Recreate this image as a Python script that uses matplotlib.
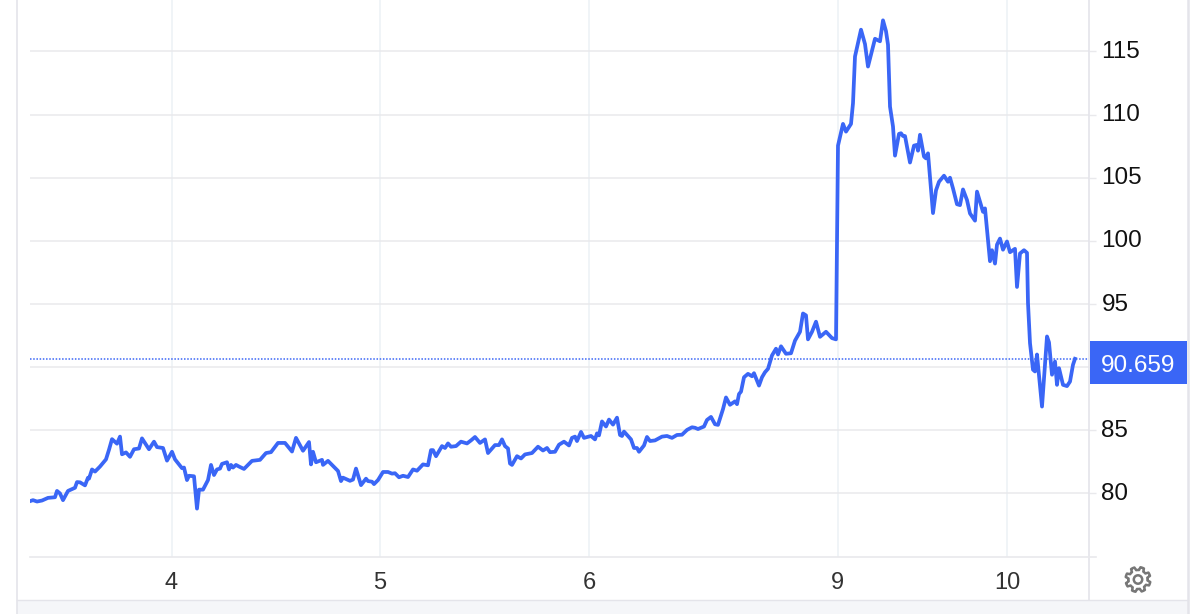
import numpy as np
import matplotlib
matplotlib.use("Agg")
import matplotlib.pyplot as plt
from matplotlib.patches import Polygon, Circle, Rectangle
from matplotlib.lines import Line2D
from matplotlib.transforms import ScaledTranslation

plt.rcParams["font.family"] = ["Liberation Sans", "DejaVu Sans"]

# x is in chart time steps, 209 steps make roughly one session
time_part1 = [30, 33, 37, 42, 48, 55, 57, 60, 63, 68, 75, 77, 80, 85, 88, 89, 92, 95, 100, 106,
              109, 112, 117, 120, 122, 126, 130, 134, 139, 142, 149, 154, 157, 163, 167, 172, 175, 182, 184, 187,
              189, 194, 197, 199, 203, 208, 211, 214, 217, 220, 222, 227, 229, 231, 233, 236, 239, 244, 252, 260,
              266, 271, 278, 285, 292, 296, 303, 309, 311, 313, 316, 322, 323, 328, 332, 338, 341, 343, 350, 353,
              356, 361, 366, 368, 372, 374, 378, 383, 388, 392, 395, 399]
value_part1 = [79.39, 79.47, 79.36, 79.44, 79.65, 79.7, 80.2, 80.0, 79.47, 80.2, 80.45, 80.9, 80.88, 80.64, 81.25, 81.17, 81.9, 81.73, 82.13, 82.7,
               83.46, 84.3, 83.94, 84.5, 83.1, 83.25, 82.9, 83.5, 83.56, 84.36, 83.5, 84.1, 83.67, 83.6, 82.6, 83.3, 82.7, 82.0, 82.05, 81.06,
               81.4, 81.36, 78.8, 80.3, 80.3, 81.06, 82.26, 81.46, 81.9, 81.97, 82.34, 82.47, 81.9, 82.26, 82.05, 82.26, 82.13, 81.94, 82.58, 82.66,
               83.2, 83.27, 84.0, 84.0, 83.32, 84.4, 83.38, 84.07, 82.3, 83.3, 82.47, 82.66, 82.26, 82.58, 82.26, 81.78, 80.98, 81.25, 81.0, 81.1,
               81.97, 80.66, 81.17, 80.98, 80.93, 80.74, 81.06, 81.7, 81.7, 81.57, 81.6, 81.28]

time_part2 = [403, 408, 413, 417, 423, 428, 431, 433, 436, 442, 445, 448, 451, 456, 461, 467, 471, 475, 480, 485,
              488, 495, 499, 502, 505, 508, 510, 512, 517, 521, 525, 532, 538, 543, 547, 550, 555, 559, 564, 569,
              572, 575, 577, 581, 584, 591, 595, 597, 599, 602, 606, 609, 613, 617, 620, 622, 624, 631, 634, 637,
              639, 644, 647, 650, 655, 662, 667, 672, 677, 682, 687, 692, 695, 698, 704, 707, 711, 715, 718, 723,
              726, 730, 735, 737, 739, 741, 744, 748, 752, 754, 759, 762, 765, 768, 772, 776, 778, 781, 786, 791,
              795, 800, 803, 806, 808, 812, 816, 820, 826, 832, 836]
value_part2 = [81.4, 81.3, 81.9, 81.8, 82.3, 82.23, 83.43, 83.43, 82.95, 83.75, 83.6, 83.96, 83.7, 83.75, 84.1, 83.96, 84.2, 84.47, 84.0, 84.28,
               83.2, 83.83, 83.83, 84.28, 83.75, 83.56, 82.37, 82.26, 82.95, 82.77, 83.09, 83.2, 83.7, 83.4, 83.6, 83.27, 83.3, 83.86, 84.1, 83.8,
               84.4, 84.5, 84.15, 84.87, 84.4, 84.55, 84.28, 84.76, 84.6, 85.7, 85.3, 85.85, 85.45, 86.0, 84.63, 84.55, 84.9, 84.28, 83.6, 83.6,
               83.3, 83.8, 84.47, 84.15, 84.2, 84.5, 84.55, 84.4, 84.63, 84.65, 85.03, 85.24, 85.2, 85.1, 85.3, 85.82, 86.06, 85.48, 85.43, 86.68,
               87.6, 87.02, 87.29, 87.07, 87.87, 88.06, 89.2, 89.47, 89.28, 89.52, 88.54, 89.2, 89.6, 89.87, 90.93, 91.46, 91.0, 91.65, 91.06, 91.1,
               92.1, 92.8, 94.25, 94.1, 92.2, 92.8, 93.6, 92.4, 92.8, 92.3, 92.2]

time_part3 = [838, 843, 846, 851, 853, 855, 861, 865, 868, 871, 875, 880, 883, 886, 888, 890, 893, 895, 899, 901,
              903, 905, 910, 914, 917, 918, 920, 924, 926, 928, 933, 936, 939, 944, 948, 950, 953, 957, 960, 963,
              967, 970, 975, 977, 983, 985, 987, 990, 992, 995, 997, 1000, 1003, 1007, 1010, 1015, 1017, 1020, 1024, 1027,
              1028, 1030, 1033, 1035, 1037, 1042, 1047, 1049, 1052, 1055, 1057, 1059, 1063, 1067, 1070, 1073, 1075]
value_part3 = [107.54, 109.26, 108.65, 109.26, 110.9, 114.6, 116.72, 115.58, 113.8, 114.74, 116.0, 115.8, 117.46, 116.6, 115.53, 110.63, 109.05, 106.75, 108.47, 108.52,
               108.3, 108.3, 106.2, 107.54, 107.6, 107.14, 108.4, 106.67, 106.53, 106.93, 102.2, 104.0, 104.68, 105.16, 104.68, 105.0, 104.15, 102.9, 102.83, 104.07,
               103.23, 102.17, 101.6, 103.9, 102.3, 102.57, 100.9, 98.39, 99.26, 98.2, 99.7, 100.18, 99.3, 99.95, 99.1, 99.37, 96.35, 99.0, 99.26, 99.05,
               95.08, 91.9, 89.8, 89.66, 91.0, 86.88, 92.43, 91.96, 89.4, 90.45, 88.6, 89.92, 88.6, 88.5, 88.86, 90.19, 90.66]

x_tick_steps = [171.5, 380, 589, 837.5, 1007]
x_tick_labels = ["4", "5", "6", "9", "10"]
y_ticks = [80, 85, 90, 95, 100, 105, 110, 115]
# the 90 label sits behind the last value flag in the reference
y_tick_labels = ["80", "85", "", "95", "100", "105", "110", "115"]
last_value = 90.659
last_label = "90.659"

BLUE = "#3a66f6"
GRID_H = "#e9e9ec"
GRID_V = "#eff3f7"
EDGE = "#e4e4ea"

W, H = 1200, 614
fig = plt.figure(figsize=(W / 100, H / 100), dpi=100, facecolor="white")


def fx(px):
    return px / W


def fy(py):
    return 1 - py / H


# page furniture around the plot, given in pixels of the figure
fig.add_artist(Rectangle((fx(17), 0), fx(1171), fy(600), transform=fig.transFigure,
                         facecolor="#f5f6f9", edgecolor="none"))
fig.add_artist(Line2D([fx(17), fx(1188)], [fy(600), fy(600)], color=EDGE, lw=1))
fig.add_artist(Line2D([fx(16.5), fx(16.5)], [0, 1], color=EDGE, lw=1.2))
fig.add_artist(Line2D([fx(1188), fx(1188)], [0, 1], color=EDGE, lw=1.8))
fig.add_artist(Line2D([fx(1089), fx(1089)], [fy(0), fy(600)], color=EDGE, lw=1.2))

ax = fig.add_axes([fx(30), fy(556.6), fx(1089 - 30), 556.6 / H])
ax.set_xlim(30, 1089)
ax.set_ylim(75, 119.07)
ax.set_facecolor("none")
for side in ax.spines.values():
    side.set_visible(False)

ax.set_yticks(y_ticks, y_tick_labels)
ax.yaxis.tick_right()
ax.tick_params(axis="y", length=5, width=1, color=GRID_H, pad=4, labelsize=17.5, labelcolor="#111111")
ax.set_xticks(x_tick_steps, x_tick_labels)
ax.tick_params(axis="x", length=0, pad=11, labelsize=17, labelcolor="#333333")
ax.grid(axis="y", color=GRID_H, lw=1.1)
ax.grid(axis="x", color=GRID_V, lw=1.3)
ax.set_axisbelow(True)

# value labels sit a little above their grid lines
nudge = ScaledTranslation(0, 2 / 100, fig.dpi_scale_trans)
for label in ax.get_yticklabels():
    label.set_transform(label.get_transform() + nudge)

fig.add_artist(Line2D([fx(30), fx(1096)], [fy(557), fy(557)], color=GRID_H, lw=1.2))

times = np.array(time_part1 + time_part2 + time_part3)
values = np.array(value_part1 + value_part2 + value_part3)
ax.plot(times, values, color=BLUE, lw=2.7, solid_joinstyle="round", zorder=3)
ax.axhline(last_value, color=BLUE, lw=1.1, ls=(0, (1, 1.1)), zorder=2)

# last value flag on the right
fig.add_artist(Rectangle((fx(1090), fy(384)), fx(97), 43 / H, transform=fig.transFigure,
                         facecolor=BLUE, edgecolor="none"))
fig.text(fx(1138.5), fy(365.5), last_label, color="white", fontsize=17.5, ha="center", va="center")

# settings gear
gx, gy, teeth = 1138, 579.5, 8
angles = np.linspace(0, 2 * np.pi, teeth * 8, endpoint=False)
radius = np.where((np.arange(teeth * 8) % 8) < 4, 12.5, 9.5)
gear = np.column_stack([fx(gx + radius * np.cos(angles + 0.2)), fy(gy + radius * np.sin(angles + 0.2))])
fig.add_artist(Polygon(gear, closed=True, transform=fig.transFigure, facecolor="none",
                       edgecolor="#777777", lw=1.8, joinstyle="round"))
ring = Circle((gx, H - gy), 4.2, transform=None, facecolor="none", edgecolor="#777777", lw=1.8)
fig.add_artist(ring)

fig.savefig("out.png", dpi=100)
